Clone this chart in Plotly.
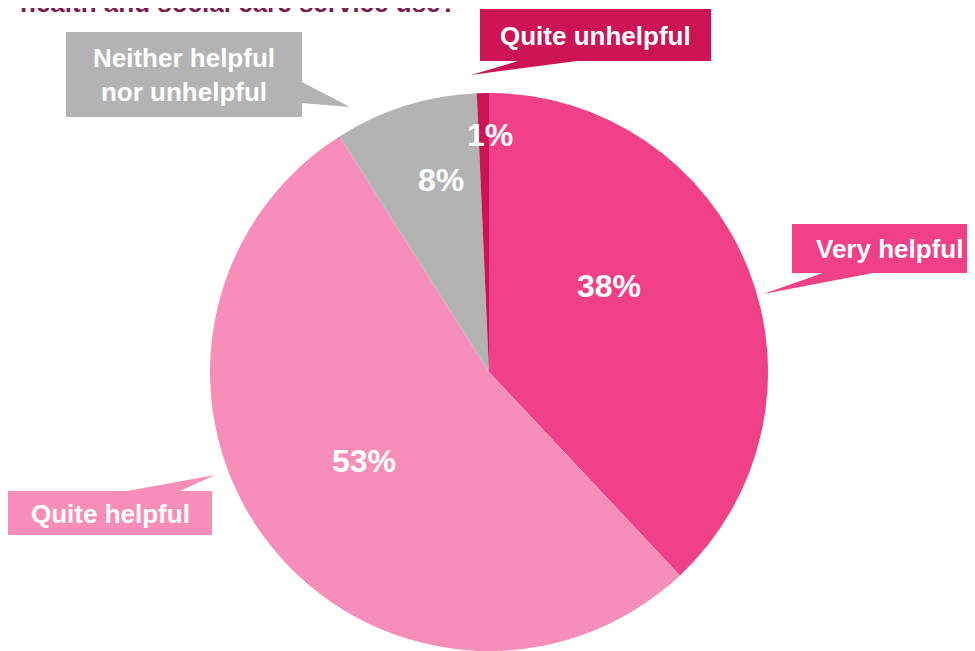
import math
import plotly.graph_objects as go

# data
labels = ["Very helpful", "Quite helpful", "Neither helpful nor unhelpful", "Quite unhelpful"]
values = [38.0, 53.0, 8.3, 0.7]
colors = ["#EF4088", "#F78EB9", "#B3B3B3", "#CC1356"]
title_tail = "health and social care service use?"

# the page body has an 8px margin: shift everything back by that much and
# keep the figure inside the window so no scrollbars show up
OFF = 8
W, H = 975 - OFF, 651 - OFF
# pie placement in screen pixels (center + radius)
CX, CY, R = 489, 372, 279


def px(x):
    return (x - OFF) / W


def py(y):
    return 1 - (y - OFF) / H


fig = go.Figure(
    go.Pie(
        labels=labels,
        values=values,
        sort=False,
        direction="clockwise",
        rotation=0,
        marker=dict(colors=colors, line=dict(width=0)),
        textinfo="none",
        hoverinfo="label+percent",
        domain=dict(x=[px(CX - R), px(CX + R)], y=[max(0, py(CY + R)), py(CY - R)]),
        showlegend=False,
    )
)

# percentage labels, placed around the slice middle (best-fit style)
label_radius = [0.53, 0.55, 0.71, 0.85]
label_shift = [-14, 2.4, 3.5, 1.5]
total = sum(values)
cum = 0
annotations = []
for v, rf, sh in zip(values, label_radius, label_shift):
    mid = (cum + v / 2) / total * 360 + sh
    cum += v
    a = math.radians(mid)
    x = CX + rf * R * math.sin(a)
    y = CY - rf * R * math.cos(a)
    annotations.append(
        dict(
            x=px(x), y=py(y), xref="paper", yref="paper",
            xanchor="center", yanchor="middle",
            text=f"{round(v / total * 100)}%", showarrow=False,
            font=dict(family="Liberation Sans, Arial", size=32, color="white", weight="bold"),
        )
    )

# callout boxes: (text, color, box [x0, y0, x1, y1], pointer polygon, text center)
callouts = [
    ("Quite unhelpful", colors[3], (480, 9, 711, 61), [(577, 61), (471, 75), (518, 61)], (595, 36)),
    ("Neither helpful<br>nor unhelpful", colors[2], (66, 32, 302, 117), [(302, 82), (350, 107), (302, 103)], (184, 75)),
    ("Very helpful", colors[0], (792, 224, 990, 273), [(873, 273), (763, 294), (823, 273)], (889, 249)),
    ("Quite helpful", colors[1], (8, 491, 212, 535), [(127, 491), (215, 475), (180, 491)], (110, 514)),
]

shapes = []
for text, col, (x0, y0, x1, y1), ptr, (tx, ty) in callouts:
    shapes.append(dict(type="rect", xref="paper", yref="paper",
                       x0=px(x0), x1=px(x1), y0=py(y1), y1=py(y0),
                       fillcolor=col, line=dict(width=0), layer="above"))
    path = "M " + " L ".join(f"{px(a)},{py(b)}" for a, b in ptr) + " Z"
    shapes.append(dict(type="path", xref="paper", yref="paper", path=path,
                       fillcolor=col, line=dict(width=0), layer="above"))
    annotations.append(
        dict(
            x=px(tx), y=py(ty), xref="paper", yref="paper", text=text, showarrow=False,
            xanchor="center", yanchor="middle",
            font=dict(family="Liberation Sans, Arial", size=26, color="white", weight="bold"),
        )
    )

# title, mostly cut off at the top of the frame in the original
annotations.append(
    dict(
        x=px(458), y=py(3), xref="paper", yref="paper", xanchor="right", yanchor="middle",
        text=title_tail, showarrow=False,
        font=dict(family="Liberation Sans, Arial", size=26, color="#7B1C4E", weight="bold"),
    )
)

fig.update_layout(
    width=W,
    height=H,
    margin=dict(l=0, r=0, t=0, b=0),
    paper_bgcolor="white",
    plot_bgcolor="white",
    shapes=shapes,
    annotations=annotations,
)

fig.write_html("out.html")
